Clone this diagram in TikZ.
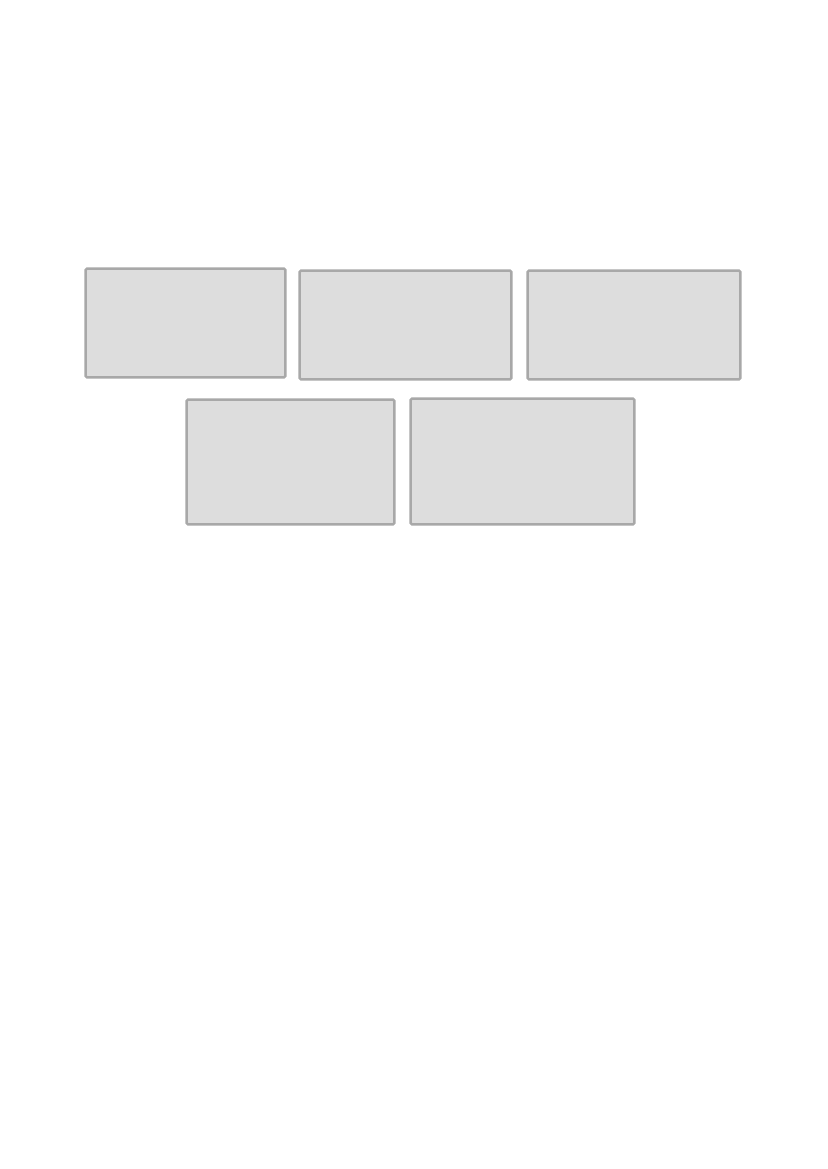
\documentclass[tikz,border=0pt]{standalone}
\usepackage{xcolor}
\usepackage{tikz}
\usetikzlibrary{positioning}
\definecolor{boxfill}{HTML}{DDDDDD}
\definecolor{boxline}{HTML}{A8A8A8}
\begin{document}
\begin{tikzpicture}[x=0.72pt,y=-0.72pt] % 五个灰色方框
    	\useasboundingbox (0,0) rectangle (827,1169);
    	
    	\tikzset{panel/.style={rectangle,draw=boxline,fill=boxfill,line width=1.8pt,rounded corners=1pt,inner sep=0pt}}
    	
    	\foreach \i/\x/\y/\w/\h in {1/185.5/323/199/108,2/405.5/325/211/108,3/634/325/212/108,4/290.5/462/207/124,5/522.5/461.5/223/125}{
    		\node[panel,minimum width=\w*0.72pt+0.6pt,minimum height=\h*0.72pt+0.6pt] 
    		(box\i) at (\x,\y){};
    	}
    \end{tikzpicture}
\end{document}
